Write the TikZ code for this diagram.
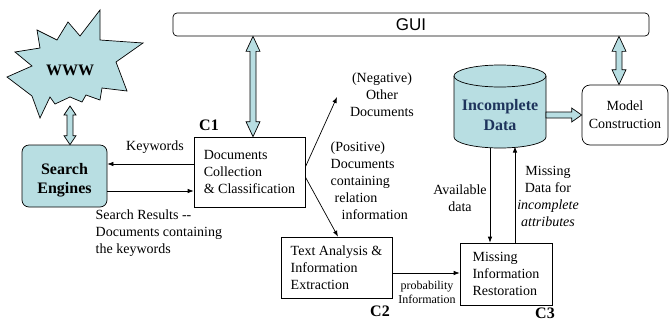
\documentclass[tikz,border=0pt]{standalone}
\usepackage{fontspec}
\setmainfont{Liberation Serif}
\newfontfamily\arialf{Liberation Sans}
\usetikzlibrary{arrows.meta,calc}
\definecolor{lblue}{RGB}{184,222,226}
\definecolor{dblue}{RGB}{30,52,92}
\newcommand{\dblV}[4]{\draw[hollow] let \p1=(#1),\p2=(#2) in (\x1,\y1) -- (\x1+#4,\y1-#3) -- (\x1+3pt,\y1-#3) -- (\x1+3pt,\y2+#3) -- (\x1+#4,\y2+#3) -- (\x1,\y2) -- (\x1-#4,\y2+#3) -- (\x1-3pt,\y2+#3) -- (\x1-3pt,\y1-#3) -- (\x1-#4,\y1-#3) -- cycle;}
\begin{document}
\begin{tikzpicture}[x=1pt,y=1pt,line width=0.7pt,
  font=\fontsize{14}{17}\selectfont,
  box/.style={draw, align=left, inner sep=0pt},
  arr/.style={-{Latex[length=6pt,width=4.5pt]}},
  hollow/.style={draw, fill=lblue, line width=0.7pt},
  bf/.style={font=\fontsize{16}{19}\selectfont\bfseries}]
\useasboundingbox (0,0) rectangle (669,-322);

% GUI
\node[draw, rounded corners=4pt, minimum width=476pt, minimum height=23pt, inner sep=0pt, font=\arialf\fontsize{17}{20}\selectfont] (gui) at (411,-24.5) {GUI};

% WWW star
\draw[hollow] (7,-77) -- (32,-66) -- (15,-52) -- (40,-48) -- (37,-30) -- (57,-40) -- (68,-22) -- (80,-36) -- (100,-10) -- (100,-40) -- (143,-43) -- (116,-62) -- (127,-91) -- (102,-88) -- (100,-100) -- (86,-95) -- (82,-102) -- (70,-97) -- (55,-104) -- (50,-97) -- (40,-118) -- (32,-96) -- cycle;
\node[bf] (www) at (70,-70) {WWW};
\coordinate (wwwbot) at (70,-106);

% Search engines
\node[draw, fill=lblue, rounded corners=7pt, minimum width=85pt, minimum height=62pt, inner sep=0pt] (se) at (64.5,-176) {};
\node[align=center, inner sep=0pt, bf] (setxt) at (64.5,-180) {Search\\Engines};

% C1
\node[box, minimum width=111pt, minimum height=70pt] (c1) at (249.5,-172) {Documents\\Collection\\\& Classification};
\node[bf, inner sep=0pt] (c1l) at (209,-125) {C1};

% C2
\node[box, minimum width=111pt, minimum height=61pt] (c2) at (336.5,-267.5) {Text Analysis \&\\Information\\Extraction};
\node[bf, inner sep=0pt] (c2l) at (380,-311) {C2};

% C3
\node[box, minimum width=92pt, minimum height=62pt] (c3) at (506,-274) {Missing\\Information\\Restoration};
\node[bf, inner sep=0pt] (c3l) at (545,-313) {C3};

% Cylinder
\draw[fill=lblue] (454,-76) -- (454,-137) arc[start angle=180,end angle=360,x radius=46,y radius=11] -- (546,-76) arc[start angle=0,end angle=180,x radius=46,y radius=11] -- cycle;
\draw (454,-76) arc[start angle=180,end angle=360,x radius=46,y radius=11];
\node[inner sep=0pt, align=center, text=dblue, font=\fontsize{16}{20}\selectfont\bfseries] (inc) at (500,-115) {Incomplete\\Data};
\coordinate (cylR) at (546,-115);

% Model construction
\node[draw, rounded corners=8pt, minimum width=86pt, minimum height=60pt, align=center, inner sep=0pt, font=\fontsize{14}{18}\selectfont] (mc) at (625,-115) {Model\\Construction};

% hollow arrows
\dblV{wwwbot}{se.north}{9pt}{6pt}
\coordinate (g1) at ($(c1.north)+(3.5,0)$);
\dblV{g1 |- gui.south}{g1}{15pt}{7pt}
\coordinate (g2) at ($(mc.north)+(-6,0)$);
\dblV{g2 |- gui.south}{g2}{15pt}{7pt}
\draw[hollow] let \p1=(cylR), \p2=(mc.west) in (\x1,\y1+3pt) -- (\x2-10pt,\y1+3pt) -- (\x2-10pt,\y1+7pt) -- (\x2,\y1) -- (\x2-10pt,\y1-7pt) -- (\x2-10pt,\y1-3pt) -- (\x1,\y1-3pt) -- cycle;

% Keywords / search results
\coordinate (k1) at ($(c1.west)+(0,8)$);
\draw[arr] (k1) -- (k1 -| se.east);
\node (kw) at (155,-147) {Keywords};
\coordinate (r1) at ($(c1.west)+(0,-19)$);
\draw[arr] (r1 -| se.east) -- (r1);
\node[anchor=west, align=left] (sr) at (92,-233) {Search Results -{}-\\Documents containing\\the keywords};

% negative / positive
\coordinate (negend) at (337,-97);
\draw[arr] ($(c1.east)+(0,5)$) -- (negend);
\node[align=center] (neg) at (382,-95) {(Negative)\\Other\\Documents};
\coordinate (c2t) at ($(c2.north)+(1.5,0)$);
\draw[arr] ($(c1.east)+(0,-5)$) -- (c2t);
\node[anchor=west, align=left] (pos) at (327,-181) {(Positive)\\Documents\\containing\\\hspace{4pt}relation\\\hspace{11pt}information};

% C2 -> C3
\coordinate (p1) at ($(c2.east)+(0,-5.5)$);
\draw[arr] (p1) -- (p1 -| c3.west);
\node[align=center, font=\fontsize{12}{14}\selectfont] (prob) at (427,-292) {probability\\Information};

% cylinder <-> C3
\coordinate (av) at (490,-147.5);
\draw[arr] (av) -- (av |- c3.north);
\node[align=center] (avl) at (460,-198) {Available\\data};
\coordinate (ms) at (515,-146.5);
\draw[arr] (ms |- c3.north) -- (ms);
\node[align=center] (msl) at (548,-196) {Missing\\Data for\\\textit{incomplete}\\\textit{attributes}};
\end{tikzpicture}
\end{document}
